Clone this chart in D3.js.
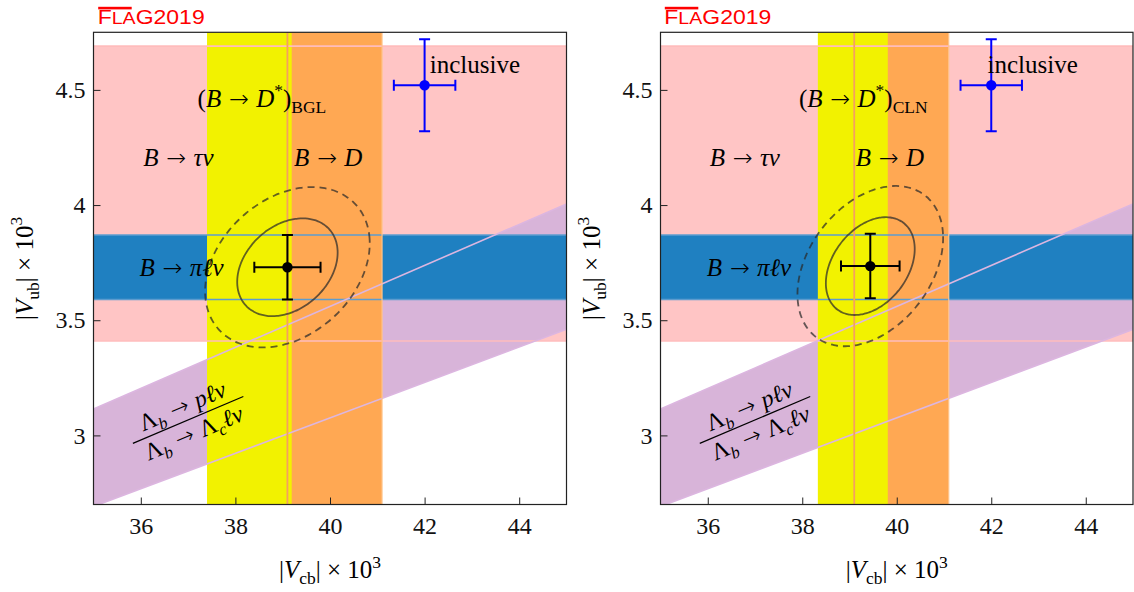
<!DOCTYPE html>
<html>
<head>
<meta charset="utf-8">
<script src="https://cdn.jsdelivr.net/npm/d3@7"></script>
<style>
  html,body{margin:0;padding:0;background:#fff;}
  svg{display:block;}
</style>
</head>
<body>
<svg id="chart" width="1134" height="592"></svg>
<script>
// ---------------- data ----------------
const xDomain = [35, 45];
const yDomain = [2.7, 4.75];
const xTicks = [36, 38, 40, 42, 44];
const xTickLabels = ["36", "38", "40", "42", "44"];
const yTicks = [3, 3.5, 4, 4.5];
const yTickLabels = ["3", "3.5", "4", "4.5"];

// |Vub| x 10^3 bands
const tauNuBand = [3.41, 4.69];      // B -> tau nu
const piLnuBand = [3.59, 3.87];      // B -> pi l nu
// |Vcb| x 10^3 bands
const bdBand = [39.1, 41.1];         // B -> D
const dstarBGL = [37.40, 39.19];     // (B -> D*) BGL
const dstarCLN = [38.33, 39.81];     // (B -> D*) CLN
// Lambda_b ratio |Vub|/|Vcb|
const lambdaRatio = [0.0769, 0.0890];
// inclusive point
const inclusiveVcb = [42.0, 0.65];
const inclusiveVub = [4.52, 0.20];
// combined fits: [Vcb, Vub, sigmaVcb, sigmaVub, rho]
const fitBGL = [39.10, 3.730, 0.70, 0.140, 0.30];
const fitCLN = [39.44, 3.735, 0.62, 0.140, 0.35];
// contour levels (delta chi^2 for 68% / 95% in 2D)
const contourLevels = [2.30, 6.18];

// ---------------- layout ----------------
const svg = d3.select("#chart");
const panels = [
  { x0: 93.5, x1: 566.5, dstar: dstarBGL, fit: fitBGL, sub: "BGL",
    lab: { dstar: [37.20, 4.426], tau: [36.05, 4.17], bd: [39.24, 4.17], pi: [35.97, 3.692], inc: [42.11, 4.573], frac: [37.0, 3.067] },
    titleX: 97.7 },
  { x0: 660.5, x1: 1133, dstar: dstarCLN, fit: fitCLN, sub: "CLN",
    lab: { dstar: [37.93, 4.426], tau: [36.04, 4.17], bd: [39.13, 4.17], pi: [35.98, 3.692], inc: [41.92, 4.573], frac: [37.0, 3.067] },
    titleX: 664.3 }
];
const yTop = 32.3, yBot = 504.5;

const C = {
  pink: "#ffc5c5", blue: "#1f80c1", yellow: "#f2f200", orange: "#ffa853",
  purple: "#d8b4d9", pinkEdge: "#ffbcbc", blueEdge: "#5d9ccf", purpleEdge: "#dcb6e0",
  orangeEdge: "#f5a060"
};
const SERIF = "'Liberation Serif','Times New Roman',serif";
const ARROWF = "'DejaVu Sans',sans-serif";

// math-ish text helper
function mtext(parent, x, y, segs, size, anchor) {
  const t = parent.append("text").attr("x", x).attr("y", y)
    .attr("font-family", SERIF).attr("font-size", size)
    .attr("text-anchor", anchor || "start").attr("fill", "#000");
  let shift = 0;
  segs.forEach(([s, st]) => {
    let target = 0, fs = size, it = false;
    if (st === "i") it = true;
    if (st === "_") { target = 0.24 * size; fs = 0.7 * size; }
    if (st === "_i") { target = 0.24 * size; fs = 0.7 * size; it = true; }
    if (st === "^") { target = -0.42 * size; fs = 0.7 * size; }
    const ts = t.append("tspan").text(s).attr("font-size", fs)
      .attr("font-style", it ? "italic" : "normal");
    if (st === "a") ts.attr("font-family", ARROWF).attr("font-size", size * 0.95).attr("font-weight", 200);
    if (target !== shift) { ts.attr("dy", target - shift); shift = target; }
  });
  return t;
}
const AR = [" \u2192 ", "a"];

panels.forEach((p, pi) => {
  const x = d3.scaleLinear().domain(xDomain).range([p.x0, p.x1]);
  const y = d3.scaleLinear().domain(yDomain).range([yBot, yTop]);
  const g = svg.append("g");
  const clipId = "clip" + pi;
  svg.append("defs").append("clipPath").attr("id", clipId)
    .append("rect").attr("x", p.x0).attr("y", yTop).attr("width", p.x1 - p.x0).attr("height", yBot - yTop);
  const pg = g.append("g").attr("clip-path", `url(#${clipId})`);

  // pink band (B -> tau nu)
  pg.append("rect").attr("x", x(xDomain[0])).attr("width", x(xDomain[1]) - x(xDomain[0]))
    .attr("y", y(tauNuBand[1])).attr("height", y(tauNuBand[0]) - y(tauNuBand[1])).attr("fill", C.pink);
  // purple band (Lambda_b ratio): lines through origin
  const lineLo = d3.line().x(d => x(d[0])).y(d => y(d[1]));
  const poly = [
    [xDomain[0], xDomain[0] * lambdaRatio[0]], [xDomain[1], xDomain[1] * lambdaRatio[0]],
    [xDomain[1], xDomain[1] * lambdaRatio[1]], [xDomain[0], xDomain[0] * lambdaRatio[1]]
  ];
  pg.append("path").attr("d", lineLo(poly) + "Z").attr("fill", C.purple);
  // blue band (B -> pi l nu)
  pg.append("rect").attr("x", x(xDomain[0])).attr("width", x(xDomain[1]) - x(xDomain[0]))
    .attr("y", y(piLnuBand[1])).attr("height", y(piLnuBand[0]) - y(piLnuBand[1])).attr("fill", C.blue);
  // orange band (B -> D)
  pg.append("rect").attr("x", x(bdBand[0])).attr("width", x(bdBand[1]) - x(bdBand[0]))
    .attr("y", y(yDomain[1])).attr("height", y(yDomain[0]) - y(yDomain[1])).attr("fill", C.orange);
  // yellow band (B -> D*)
  pg.append("rect").attr("x", x(p.dstar[0])).attr("width", x(p.dstar[1]) - x(p.dstar[0]))
    .attr("y", y(yDomain[1])).attr("height", y(yDomain[0]) - y(yDomain[1])).attr("fill", C.yellow);

  // band edge lines
  tauNuBand.forEach(v => pg.append("line").attr("x1", x(xDomain[0])).attr("x2", x(xDomain[1]))
    .attr("y1", y(v)).attr("y2", y(v)).attr("stroke", C.pinkEdge).attr("stroke-width", 1.6));
  piLnuBand.forEach(v => pg.append("line").attr("x1", x(xDomain[0])).attr("x2", x(xDomain[1]))
    .attr("y1", y(v)).attr("y2", y(v)).attr("stroke", C.blueEdge).attr("stroke-width", 1.4));
  lambdaRatio.forEach(r => pg.append("line").attr("x1", x(xDomain[0])).attr("x2", x(xDomain[1]))
    .attr("y1", y(xDomain[0] * r)).attr("y2", y(xDomain[1] * r)).attr("stroke", C.purpleEdge).attr("stroke-width", 1.6));
  pg.append("line").attr("x1", x(bdBand[0])).attr("x2", x(bdBand[0]))
    .attr("y1", yTop).attr("y2", yBot).attr("stroke", C.orangeEdge).attr("stroke-width", 1.8);
  pg.append("line").attr("x1", x(bdBand[1])).attr("x2", x(bdBand[1]))
    .attr("y1", yTop).attr("y2", yBot).attr("stroke", "#ffc48a").attr("stroke-width", 1.2);

  // fit contours
  const [cx, cy, sx, sy, rho] = p.fit;
  const angles = d3.range(0, 361, 3).map(a => a * Math.PI / 180);
  contourLevels.forEach((k, i) => {
    const r = Math.sqrt(k);
    const pts = angles.map(t => [cx + r * sx * Math.cos(t),
      cy + r * sy * (rho * Math.cos(t) + Math.sqrt(1 - rho * rho) * Math.sin(t))]);
    pg.append("path").attr("d", d3.line().x(d => x(d[0])).y(d => y(d[1])).curve(d3.curveCardinalClosed)(pts.slice(0, -1)))
      .attr("fill", "none").attr("stroke", "#2a2a2a").attr("stroke-opacity", 0.72)
      .attr("stroke-width", 1.8).attr("stroke-dasharray", i === 1 ? "7,5" : null);
  });

  // error-bar points
  function errPoint(vx, ex, vy, ey, col) {
    const cap = 5.5;
    const eg = pg.append("g").attr("stroke", col).attr("stroke-width", 2).attr("fill", col);
    eg.append("line").attr("x1", x(vx - ex)).attr("x2", x(vx + ex)).attr("y1", y(vy)).attr("y2", y(vy));
    eg.append("line").attr("x1", x(vx)).attr("x2", x(vx)).attr("y1", y(vy - ey)).attr("y2", y(vy + ey));
    [vx - ex, vx + ex].forEach(v => eg.append("line").attr("x1", x(v)).attr("x2", x(v)).attr("y1", y(vy) - cap).attr("y2", y(vy) + cap));
    [vy - ey, vy + ey].forEach(v => eg.append("line").attr("x1", x(vx) - cap).attr("x2", x(vx) + cap).attr("y1", y(v)).attr("y2", y(v)));
    eg.append("circle").attr("cx", x(vx)).attr("cy", y(vy)).attr("r", 5.2).attr("stroke", "none");
  }
  errPoint(cx, sx, cy, sy, "#000");
  errPoint(inclusiveVcb[0], inclusiveVcb[1], inclusiveVub[0], inclusiveVub[1], "#0000ff");

  // labels
  const L = p.lab, fs = 25;
  mtext(g, x(L.dstar[0]), y(L.dstar[1]), [["(", "r"], ["B", "i"], AR, ["D", "i"], ["*", "^"], [")", "r"], [p.sub, "_"]], fs);
  mtext(g, x(L.tau[0]), y(L.tau[1]), [["B", "i"], AR, ["\u03C4\u03BD", "i"]], fs);
  mtext(g, x(L.bd[0]), y(L.bd[1]), [["B", "i"], AR, ["D", "i"]], fs);
  mtext(g, x(L.pi[0]), y(L.pi[1]), [["B", "i"], AR, ["\u03C0\u2113\u03BD", "i"]], fs);
  mtext(g, x(L.inc[0]), y(L.inc[1]), [["inclusive", "r"]], fs);
  // fraction label along the purple band
  const fg = g.append("g").attr("transform", `translate(${x(L.frac[0])},${y(L.frac[1])}) rotate(-23)`);
  fg.append("line").attr("x1", -60).attr("x2", 60).attr("y1", 0).attr("y2", 0).attr("stroke", "#000").attr("stroke-width", 1.2);
  mtext(fg, 0, -7, [["\u039B", "r"], ["b", "_i"], AR, ["p\u2113\u03BD", "i"]], 24, "middle");
  mtext(fg, 0, 22, [["\u039B", "r"], ["b", "_i"], AR, ["\u039B", "r"], ["c", "_i"], ["\u2113\u03BD", "i"]], 24, "middle");

  // frame
  g.append("rect").attr("x", p.x0).attr("y", yTop).attr("width", p.x1 - p.x0).attr("height", yBot - yTop)
    .attr("fill", "none").attr("stroke", "#222").attr("stroke-width", 1.2);
  // ticks (inward)
  const xAxis = d3.axisBottom(x).tickValues(xTicks).tickSize(-7).tickPadding(12)
    .tickFormat((d, i) => xTickLabels[i]);
  const xa = g.append("g").attr("transform", `translate(0,${yBot})`).call(xAxis);
  const yAxis = d3.axisLeft(y).tickValues(yTicks).tickSize(-7).tickPadding(8)
    .tickFormat((d, i) => yTickLabels[i]);
  const ya = g.append("g").attr("transform", `translate(${p.x0},0)`).call(yAxis);
  [xa, ya].forEach(a => {
    a.select(".domain").remove();
    a.selectAll(".tick line").attr("stroke", "#222").attr("stroke-width", 1);
    a.selectAll(".tick text").attr("font-family", SERIF).attr("font-size", 24).attr("fill", "#111");
  });
  xa.selectAll(".tick text").attr("dy", "0.71em");

  // axis titles
  const xmid = (p.x0 + p.x1) / 2;
  mtext(g, xmid, 578, [["|", "r"], ["V", "i"], ["cb", "_"], ["|", "r"], [" \u00D7 10", "r"], ["3", "^"]], 25, "middle");
  const yl = g.append("g").attr("transform", `translate(${p.x0 - 61},${(yTop + yBot) / 2}) rotate(-90)`);
  mtext(yl, 0, 0, [["|", "r"], ["V", "i"], ["ub", "_"], ["|", "r"], [" \u00D7 10", "r"], ["3", "^"]], 25, "middle");

  // FLAG2019 logo
  const tg = g.append("g").attr("transform", `translate(${p.titleX},24) scale(1.15,1)`);
  const tt = tg.append("text").attr("x", 0).attr("y", 0).attr("font-family", "'Liberation Sans',Arial,sans-serif")
    .attr("fill", "#f00").attr("font-size", 20);
  tt.append("tspan").text("F");
  tt.append("tspan").text("LA").attr("font-size", 17);
  tt.append("tspan").text("G2019");
  g.append("rect").attr("x", p.titleX + 0.5).attr("y", 6.8).attr("width", 33.5).attr("height", 2.6).attr("fill", "#f00");
});
</script>
</body>
</html>
